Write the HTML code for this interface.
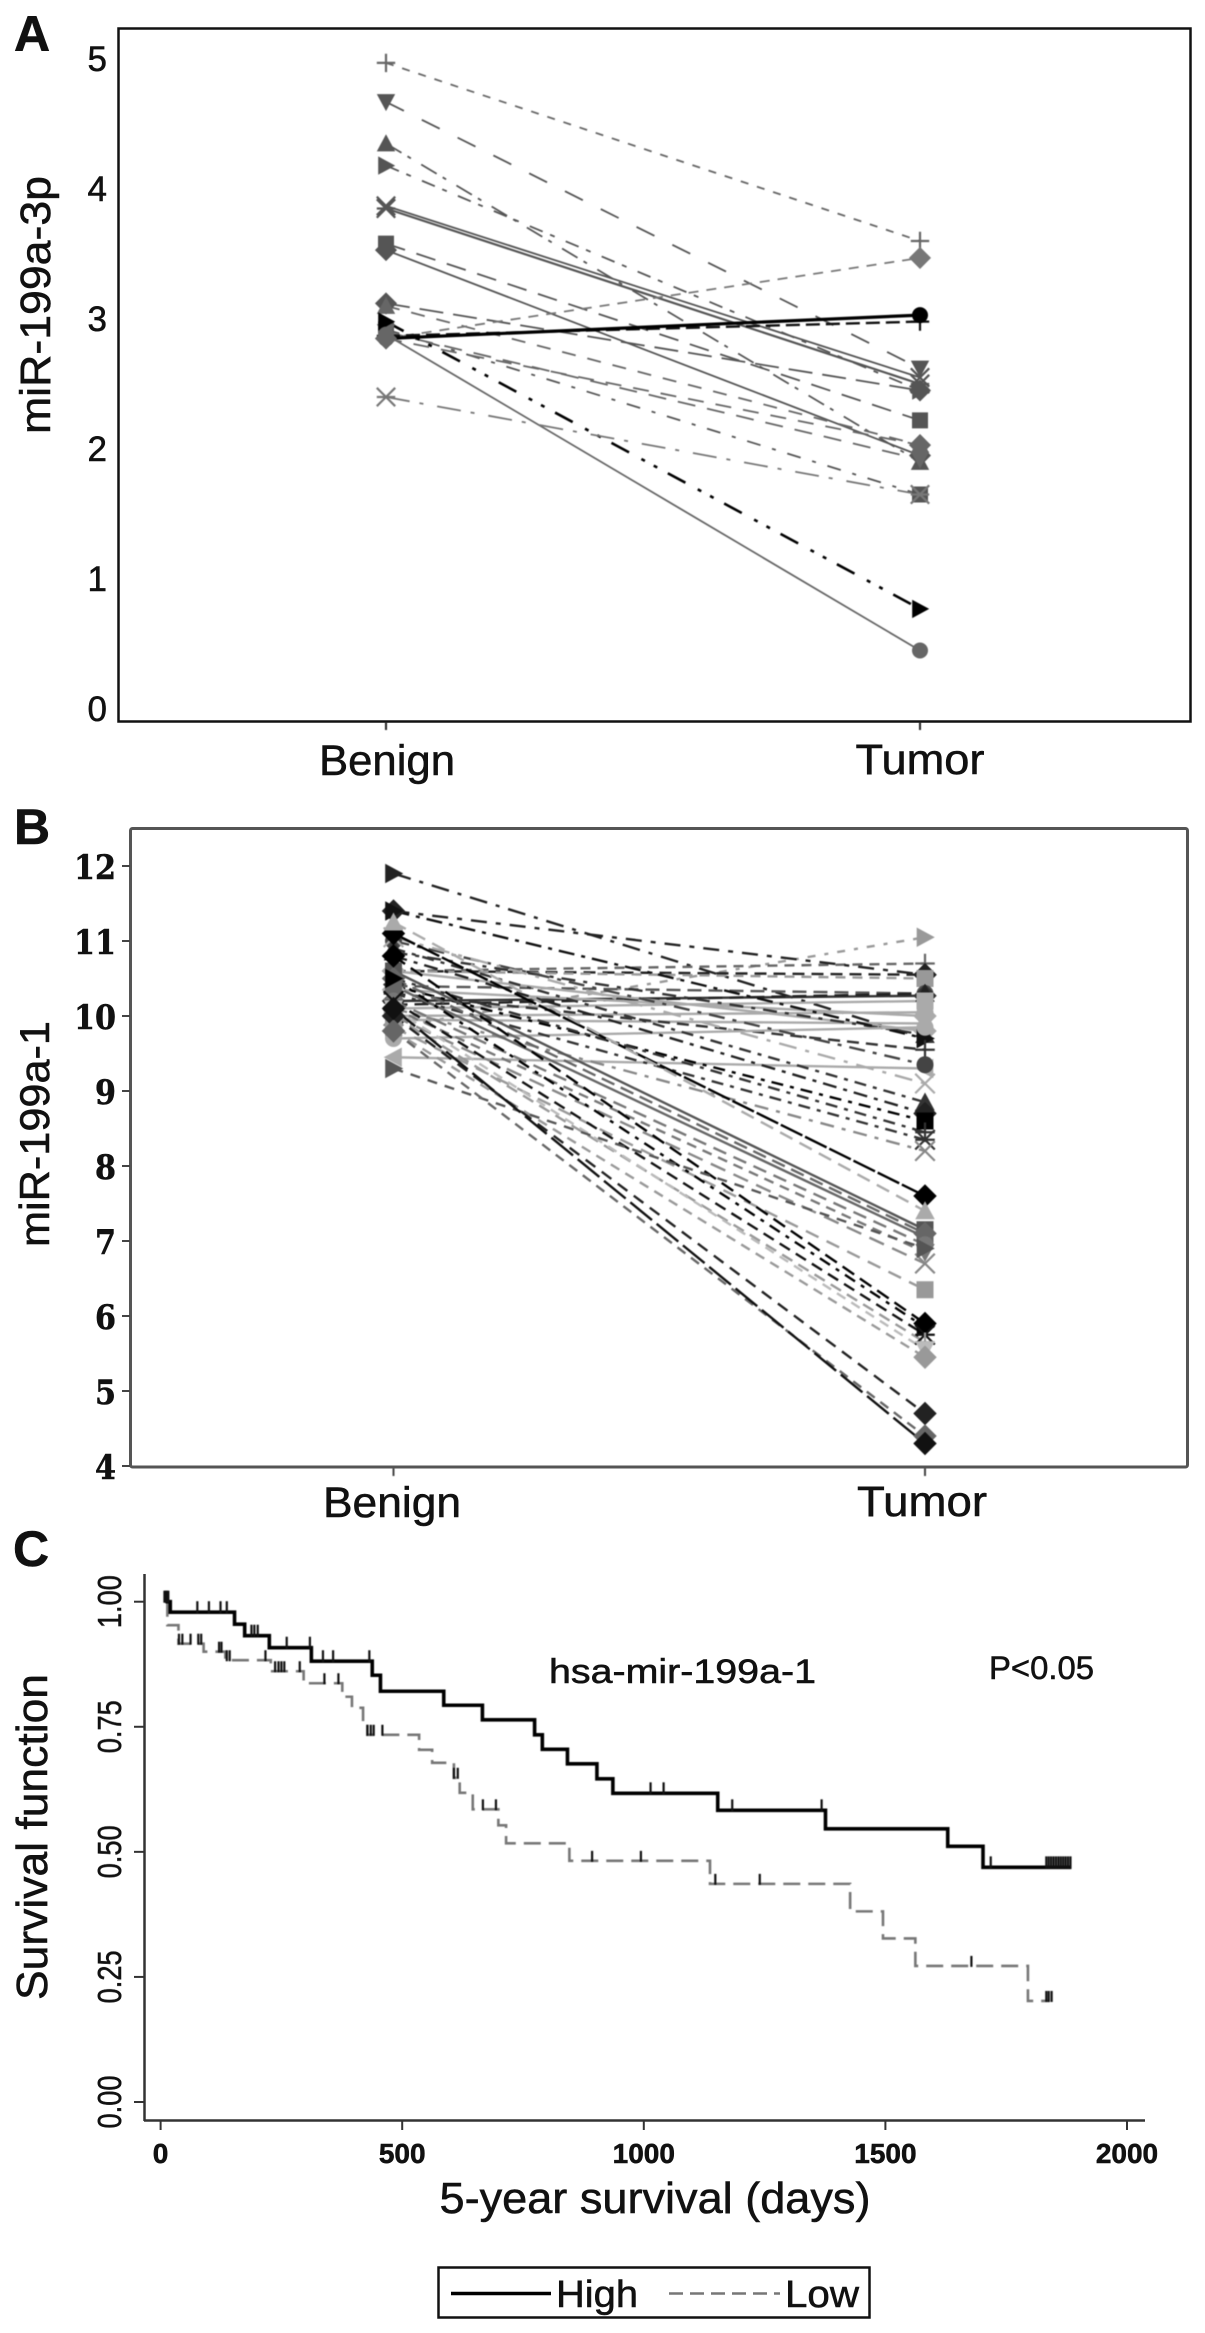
<!DOCTYPE html>
<html>
<head>
<meta charset="utf-8">
<title>miR-199a panels</title>
<style>
html,body{margin:0;padding:0;background:#fff}
svg{display:block}
text{font-family:"Liberation Sans",sans-serif;fill:#111;stroke:#111;stroke-width:0.55px;filter:blur(0.35px)}
.soft{filter:blur(0.5px)}
</style>
</head>
<body>
<svg id="figure" xmlns="http://www.w3.org/2000/svg" width="1205" height="2333" viewBox="0 0 1205 2333">
  <rect x="0" y="0" width="1205" height="2333" fill="#fff"/>

  <!-- Panel A -->
  <text x="14" y="51" font-size="50" font-weight="700" fill="#000">A</text>
  <rect x="118.5" y="28.5" width="1072" height="693" fill="none" stroke="#111" stroke-width="2.5"/>
  <text transform="translate(50,434) rotate(-90)" font-size="43" textLength="258" lengthAdjust="spacingAndGlyphs">miR-199a-3p</text>
  <g id="panelA" class="soft"></g>
  <g id="panelATicks"></g>
  <text x="387" y="775" font-size="43" text-anchor="middle" textLength="136" lengthAdjust="spacingAndGlyphs">Benign</text>
  <text x="920" y="774" font-size="43" text-anchor="middle" textLength="129" lengthAdjust="spacingAndGlyphs">Tumor</text>

  <!-- Panel B -->
  <text x="14" y="844" font-size="50" font-weight="700" fill="#000">B</text>
  <rect x="130.5" y="828.5" width="1057" height="638.5" rx="2" fill="none" stroke="#555" stroke-width="3"/>
  <text transform="translate(49,1247) rotate(-90)" font-size="42" textLength="226" lengthAdjust="spacingAndGlyphs">miR-199a-1</text>
  <g id="panelB" class="soft"></g>
  <g id="panelBTicks"></g>
  <text x="392" y="1517" font-size="43" text-anchor="middle" textLength="138" lengthAdjust="spacingAndGlyphs">Benign</text>
  <text x="922" y="1516" font-size="43" text-anchor="middle" textLength="130" lengthAdjust="spacingAndGlyphs">Tumor</text>

  <!-- Panel C -->
  <text x="13" y="1566" font-size="50" font-weight="700" fill="#000">C</text>
  <line x1="144.5" y1="1574" x2="144.5" y2="2121" stroke="#333" stroke-width="2.5"/>
  <line x1="144" y1="2120.5" x2="1145" y2="2120.5" stroke="#333" stroke-width="2.5"/>
  <g id="panelCTicks"></g>
  <text transform="translate(47,2000) rotate(-90)" font-size="44" textLength="326" lengthAdjust="spacingAndGlyphs">Survival function</text>
  <text x="655" y="2213" font-size="44" text-anchor="middle" textLength="431" lengthAdjust="spacingAndGlyphs">5-year survival (days)</text>
  <g id="panelC" class="soft"></g>
  <text x="549" y="1683" font-size="34" textLength="267" lengthAdjust="spacingAndGlyphs">hsa-mir-199a-1</text>
  <text x="989" y="1679" font-size="32" textLength="105" lengthAdjust="spacingAndGlyphs">P&lt;0.05</text>

  <g>
    <rect x="438.5" y="2267.5" width="431" height="50" fill="#fff" stroke="#111" stroke-width="2.5"/>
    <line x1="451" y1="2293.5" x2="551" y2="2293.5" stroke="#000" stroke-width="3.5"/>
    <text x="556" y="2307" font-size="38" textLength="82" lengthAdjust="spacingAndGlyphs">High</text>
    <line x1="669" y1="2293.5" x2="780" y2="2293.5" stroke="#777" stroke-width="2.5" stroke-dasharray="14 7"/>
    <text x="785" y="2307" font-size="38" textLength="74" lengthAdjust="spacingAndGlyphs">Low</text>
  </g>
</svg>

<script>
// ---------- Panel A data ----------
var aTicks = [0, 1, 2, 3, 4, 5];
var aBenign = [4.97, 4.67, 4.35, 4.18, 3.87, 3.85, 3.58, 3.53, 3.12, 3.10, 2.85, 2.92, 2.90, 2.87, 2.85, 2.85, 2.98, 2.88, 2.40];
var aTumor  = [3.60, 2.62, 1.90, 2.45, 2.55, 2.50, 2.22, 1.95, 2.45, 2.03, 3.47, 1.65, 1.92, 2.98, 3.03, 2.03, 0.77, 0.45, 1.65];
var aMarkers = ['plus','down','up','right','x','star','square','diamond','diamond','up','diamond','square','down','plus','circle','diamond','right','circle','star'];
var aTone = ['#666','#555','#555','#555','#555','#555','#555','#555','#555','#666','#777','#555','#666','#111','#000','#666','#000','#666','#777'];
var aWeight = [1.8,1.8,1.8,1.8,1.8,2.2,1.8,1.8,1.8,1.8,1.8,1.8,1.8,2.4,3.2,1.8,2.6,1.8,1.8];
var aDash = ['8 9','20 20','18 7 4 12','14 8 5 12','','','20 12','','24 10','14 12','10 8','14 12 4 12','18 12','14 6','','16 12','20 14 4 10 4 12','','24 10 4 14'];

// ---------- Panel B data ----------
var bTicks = [4, 5, 6, 7, 8, 9, 10, 11, 12];
var bBenign = [11.90, 9.85, 10.60, 11.40, 10.60, 10.60, 10.40, 10.20, 10.15, 10.10, 10.35, 10.00, 10.60, 9.95, 10.85, 11.40, 10.30, 9.70, 9.45, 11.00, 11.05, 10.90, 10.80, 10.40, 10.50, 10.30, 10.10, 11.10, 11.25, 10.60, 10.50, 10.40, 10.20, 10.10, 10.00, 9.85, 10.80, 10.50, 10.20, 10.00, 10.10, 9.80, 9.30, 10.00, 9.80, 10.10];
var bTumor  = [9.70, 11.05, 10.70, 10.55, 10.55, 10.50, 10.30, 10.27, 10.30, 10.20, 10.00, 10.05, 9.80, 9.90, 9.75, 9.70, 9.55, 9.85, 9.30, 9.35, 9.10, 8.85, 8.70, 8.60, 8.45, 8.35, 8.20, 7.60, 7.40, 7.15, 7.10, 7.05, 6.95, 6.85, 6.70, 6.35, 5.90, 5.85, 5.75, 5.65, 5.55, 5.45, 6.90, 4.70, 4.40, 4.30];
var bMarkers = ['right','right','plus','diamond','diamond','square','circle','diamond','up','square','diamond','circle','diamond','down','up','right','plus','circle','left','circle','x','up','diamond','square','plus','star','x','diamond','up','square','diamond','square','circle','down','x','square','diamond','right','star','plus','down','diamond','right','diamond','diamond','diamond'];
var bTone = ['#222','#999','#666','#222','#222','#999','#555','#333','#222','#aaa','#aaa','#aaa','#aaa','#aaa','#333','#111','#333','#aaa','#aaa','#444','#aaa','#333','#222','#000','#333','#333','#888','#000','#aaa','#555','#666','#666','#777','#777','#888','#999','#000','#000','#111','#999','#bbb','#999','#555','#222','#666','#111'];
var bDash = ['18 9 4 9','8 9 4 9','10 7','16 9 5 9','12 7','10 7','14 7','','14 7','','','','','','14 8 4 8','16 7 4 7','12 7','','','16 8 4 8','18 9 4 9','12 7 4 7','14 7 4 7','12 7 4 7','12 7 4 7','12 7 4 7','14 8 4 8','24 3','14 8','','14 7','','14 8','10 7','16 9','14 9','14 7','12 7 4 7','12 7','12 7','10 7','10 7','10 8','12 8','10 7','28 6'];

// ---------- Panel C data ----------
var cXTicks = [0, 500, 1000, 1500, 2000];
var cYTicks = ['0.00', '0.25', '0.50', '0.75', '1.00'];
var highDays = [10, 20, 153, 174, 225, 312, 438, 455, 586, 666, 774, 790, 842, 903, 936, 1153, 1376, 1629, 1702, 1885];
var highSurv = [1.00, 0.979, 0.955, 0.932, 0.908, 0.881, 0.853, 0.821, 0.793, 0.764, 0.734, 0.705, 0.676, 0.646, 0.617, 0.583, 0.546, 0.511, 0.469, 0.469];
var lowDays = [10, 14, 37, 89, 134, 228, 296, 376, 396, 419, 428, 535, 562, 607, 619, 646, 699, 715, 846, 1137, 1427, 1495, 1562, 1795, 1840];
var lowSurv = [1.00, 0.953, 0.916, 0.900, 0.883, 0.861, 0.837, 0.810, 0.788, 0.760, 0.734, 0.704, 0.678, 0.648, 0.618, 0.585, 0.553, 0.517, 0.482, 0.436, 0.381, 0.327, 0.272, 0.202, 0.202];
var highCensor = [8, 10, 12, 14, 16, 76, 100, 124, 137, 188, 194, 201, 261, 309, 336, 357, 432, 1014, 1041, 1183, 1368, 1718, 1833, 1838, 1843, 1848, 1853, 1858, 1863, 1868, 1873, 1878, 1883];
var lowCensor = [38, 45, 62, 78, 84, 121, 126, 137, 143, 217, 237, 244, 250, 256, 288, 339, 368, 428, 435, 441, 459, 607, 615, 667, 694, 893, 994, 1148, 1240, 1678, 1833, 1838, 1844];

// ---------- Axis functions ----------
function xA(i) { return 386 + i * 534; }
function yA(v) { return 709 - v * 130; }
function xB(i) { return 393.5 + i * 531.5; }
function yB(v) { return 1466 - (v - 4) * 75; }
function xC(d) { return 160.6 + d * 0.4832; }
function yC(s) { return 2102 - s * 500.3; }

var NS = 'http://www.w3.org/2000/svg';
function make(parent, tag, attrs, txt) {
  var el = document.createElementNS(NS, tag);
  for (var k in attrs) { el.setAttribute(k, attrs[k]); }
  if (txt !== undefined) { el.textContent = txt; }
  parent.appendChild(el);
  return el;
}

function markerPath(shape, x, y, r) {
  var h = r * 1.15;
  switch (shape) {
    case 'square':  return 'M' + (x - r) + ' ' + (y - r) + 'H' + (x + r) + 'V' + (y + r) + 'H' + (x - r) + 'Z';
    case 'diamond': return 'M' + x + ' ' + (y - h * 1.2) + 'L' + (x + h * 1.2) + ' ' + y + 'L' + x + ' ' + (y + h * 1.2) + 'L' + (x - h * 1.2) + ' ' + y + 'Z';
    case 'up':      return 'M' + x + ' ' + (y - h) + 'L' + (x + h) + ' ' + (y + h * 0.85) + 'L' + (x - h) + ' ' + (y + h * 0.85) + 'Z';
    case 'down':    return 'M' + x + ' ' + (y + h) + 'L' + (x + h) + ' ' + (y - h * 0.85) + 'L' + (x - h) + ' ' + (y - h * 0.85) + 'Z';
    case 'right':   return 'M' + (x + h) + ' ' + y + 'L' + (x - h * 0.85) + ' ' + (y - h) + 'L' + (x - h * 0.85) + ' ' + (y + h) + 'Z';
    case 'left':    return 'M' + (x - h) + ' ' + y + 'L' + (x + h * 0.85) + ' ' + (y - h) + 'L' + (x + h * 0.85) + ' ' + (y + h) + 'Z';
    case 'plus':    return 'M' + (x - h) + ' ' + y + 'H' + (x + h) + 'M' + x + ' ' + (y - h) + 'V' + (y + h);
    case 'x':       return 'M' + (x - h) + ' ' + (y - h) + 'L' + (x + h) + ' ' + (y + h) + 'M' + (x - h) + ' ' + (y + h) + 'L' + (x + h) + ' ' + (y - h);
    default:        return 'M' + (x - h) + ' ' + (y - h) + 'L' + (x + h) + ' ' + (y + h) + 'M' + (x - h) + ' ' + (y + h) + 'L' + (x + h) + ' ' + (y - h) + 'M' + (x - h) + ' ' + y + 'H' + (x + h);
  }
}

function drawMarker(parent, shape, x, y, r, tone) {
  var open = shape === 'plus' || shape === 'x' || shape === 'star';
  var m;
  if (shape === 'circle') {
    m = make(parent, 'circle', { cx: x, cy: y, r: r, fill: tone });
  } else if (open) {
    m = make(parent, 'path', { d: markerPath(shape, x, y, r), fill: 'none', stroke: tone, 'stroke-width': 2.2 });
  } else {
    m = make(parent, 'path', { d: markerPath(shape, x, y, r), fill: tone });
  }
  return m;
}

// ---------- Panel A ----------
var gA = document.getElementById('panelA');
aBenign.forEach(function (v, i) {
  var line = make(gA, 'line', { x1: xA(0), y1: yA(v), x2: xA(1), y2: yA(aTumor[i]), stroke: aTone[i], 'stroke-width': aWeight[i], 'stroke-dasharray': aDash[i] });
  
  
});
aBenign.forEach(function (v, i) {
  var m0 = drawMarker(gA, aMarkers[i], xA(0), yA(v), 8, aTone[i]);
  
  
  var m1 = drawMarker(gA, aMarkers[i], xA(1), yA(aTumor[i]), 8, aTone[i]);
  
  
});
[0, 1].forEach(function (i) {
  var t = make(gA, 'line', { x1: xA(i), y1: 722, x2: xA(i), y2: 730, stroke: '#222', 'stroke-width': 2 });
  
  
});
var gAT = document.getElementById('panelATicks');
aTicks.forEach(function (v) {
  var t = make(gAT, 'text', { x: 107, y: yA(v) + 12, 'font-size': 35, 'text-anchor': 'end' }, String(v));
  
  
});

// ---------- Panel B ----------
var gB = document.getElementById('panelB');
bBenign.forEach(function (v, i) {
  var line = make(gB, 'line', { x1: xB(0), y1: yB(v), x2: xB(1), y2: yB(bTumor[i]), stroke: bTone[i], 'stroke-width': 2.4, 'stroke-dasharray': bDash[i] });
  
  
});
bBenign.forEach(function (v, i) {
  var m0 = drawMarker(gB, bMarkers[i], xB(0), yB(v), 8.5, bTone[i]);
  
  
  var m1 = drawMarker(gB, bMarkers[i], xB(1), yB(bTumor[i]), 8.5, bTone[i]);
  
  
});
[0, 1].forEach(function (i) {
  var t = make(gB, 'line', { x1: xB(i), y1: 1468, x2: xB(i), y2: 1476, stroke: '#444', 'stroke-width': 2 });
  
  
});
var gBT = document.getElementById('panelBTicks');
bTicks.forEach(function (v) {
  var label = String(v);
  var t = make(gBT, 'text', { x: 116, y: yB(v) + 13, 'font-size': 34, 'font-weight': 700, 'text-anchor': 'end', textLength: label.length * 21, lengthAdjust: 'spacingAndGlyphs', style: 'font-family:"DejaVu Serif",serif' }, label);
  
  
  var k = make(gBT, 'line', { x1: 122, y1: yB(v), x2: 130, y2: yB(v), stroke: '#444', 'stroke-width': 2 });
  
  
});

// ---------- Panel C ----------
var gCT = document.getElementById('panelCTicks');
cXTicks.forEach(function (v) {
  var k = make(gCT, 'line', { x1: xC(v), y1: 2120, x2: xC(v), y2: 2130, stroke: '#333', 'stroke-width': 2 });
  
  
  var t = make(gCT, 'text', { x: xC(v), y: 2163, 'font-size': 28, 'font-weight': 700, 'text-anchor': 'middle' }, String(v));
  
  
});
cYTicks.forEach(function (label) {
  var y = yC(parseFloat(label));
  var k = make(gCT, 'line', { x1: 134, y1: y, x2: 144, y2: y, stroke: '#333', 'stroke-width': 2 });
  
  
  var t = make(gCT, 'text', { transform: 'translate(121,' + y + ') rotate(-90)', 'font-size': 33, 'text-anchor': 'middle', textLength: 53, lengthAdjust: 'spacingAndGlyphs' }, label);
  
  
});

function stepPath(days, surv) {
  var d = 'M' + xC(days[0]) + ' ' + yC(surv[0]);
  for (var i = 1; i < days.length; i++) {
    d += 'H' + xC(days[i]) + 'V' + yC(surv[i]);
  }
  return d;
}
function survAt(days, surv, day) {
  var s = surv[0];
  for (var i = 0; i < days.length; i++) {
    if (days[i] <= day) { s = surv[i]; }
  }
  return s;
}

var gC = document.getElementById('panelC');
var lowPath = make(gC, 'path', { d: stepPath(lowDays, lowSurv), fill: 'none', stroke: '#777', 'stroke-width': 2.6, 'stroke-dasharray': '17 8' });


var highPath = make(gC, 'path', { d: stepPath(highDays, highSurv), fill: 'none', stroke: '#000', 'stroke-width': 3.6 });



lowCensor.forEach(function (day) {
  var y = yC(survAt(lowDays, lowSurv, day));
  var c = make(gC, 'line', { x1: xC(day), y1: y - 10, x2: xC(day), y2: y + 1, stroke: '#111', 'stroke-width': 2.2 });
  
  
});
highCensor.forEach(function (day) {
  var y = yC(survAt(highDays, highSurv, day));
  var c = make(gC, 'line', { x1: xC(day), y1: y - 11, x2: xC(day), y2: y + 1, stroke: '#111', 'stroke-width': 2.2 });
  
  
});
</script>
</body>
</html>
